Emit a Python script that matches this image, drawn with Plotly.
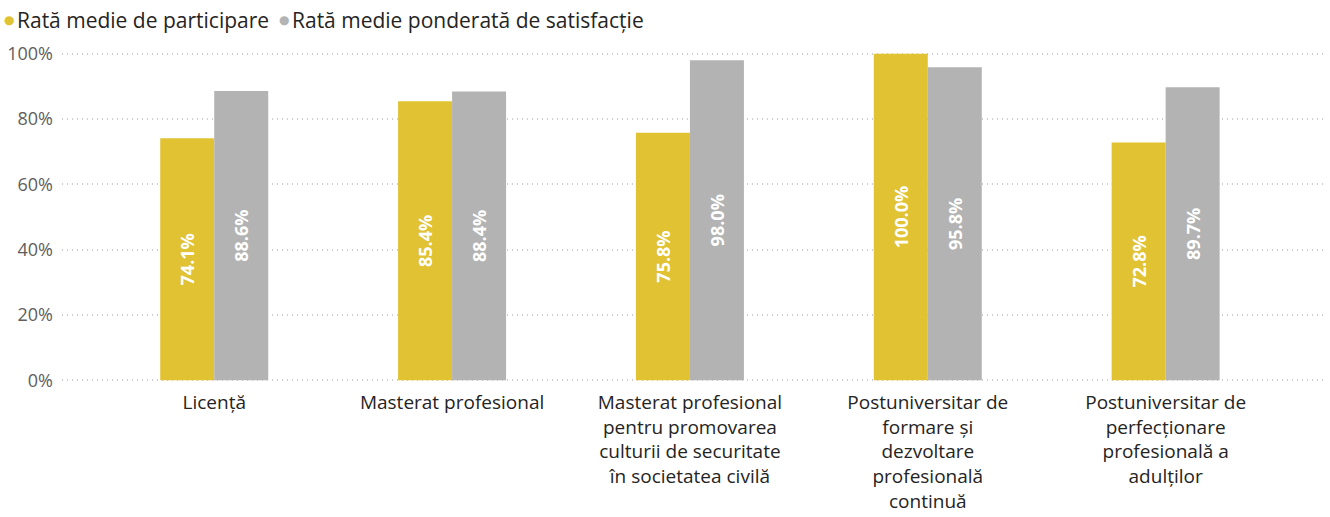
import plotly.graph_objects as go

categories = [
    "Licență",
    "Masterat profesional",
    "Masterat profesional<br>pentru promovarea<br>culturii de securitate<br>în societatea civilă",
    "Postuniversitar de<br>formare și<br>dezvoltare<br>profesională<br>continuă",
    "Postuniversitar de<br>perfecționare<br>profesională a<br>adulților",
]
participare = [74.1, 85.4, 75.8, 100.0, 72.8]
satisfactie = [88.6, 88.4, 98.0, 95.8, 89.7]
series_names = ["Rată medie de participare", "Rată medie ponderată de satisfacție"]
colors = ["#E0C232", "#B3B3B3"]
y_ticks = [0, 20, 40, 60, 80, 100]

W, H = 1330, 517
L, R, T, B = 62, 5, 52, 135
pw, ph = W - L - R, H - T - B

x = list(range(len(categories)))
fig = go.Figure()
for name, vals, col in zip(series_names, [participare, satisfactie], colors):
    fig.add_trace(go.Bar(
        x=x, y=vals, name=name, marker=dict(color=col, line=dict(width=0)),
        text=[f"{v:.1f}%" for v in vals], textposition="inside",
        insidetextanchor="middle", textangle=-90,
        textfont=dict(color="white", size=18, family="Open Sans", weight="bold"),
        constraintext="none", showlegend=False,
    ))

# legend drawn as circle marker + label
legend_dot_x = [9, 284]
for name, col, dx in zip(series_names, colors, legend_dot_x):
    fig.add_annotation(
        xref="paper", yref="paper",
        x=(dx - L) / pw, y=1 + (T - 20) / ph,
        xanchor="center", yanchor="middle", showarrow=False,
        text="●", font=dict(family="DejaVu Sans", size=12, color=col),
    )
    fig.add_annotation(
        xref="paper", yref="paper",
        x=(dx + 6 - L) / pw, y=1 + (T - 20) / ph,
        xanchor="left", yanchor="middle", showarrow=False,
        text=name, font=dict(family="Open Sans", size=21, color="#252423"),
    )

fig.update_layout(
    width=W, height=H,
    margin=dict(l=L, r=R, t=T, b=B, autoexpand=False),
    plot_bgcolor="white", paper_bgcolor="white",
    barmode="group", bargap=0.546, bargroupgap=0,
    font=dict(family="Open Sans", size=16, color="#252423"),
    showlegend=False,
)
fig.update_xaxes(
    range=[-0.64, 4.67], tickmode="array", tickvals=x, ticktext=categories,
    showgrid=False, zeroline=False, showline=False, ticks="",
    tickfont=dict(size=19, color="#252423"), tickangle=0, ticklabelstandoff=7,
)
fig.update_yaxes(
    range=[-0.5, 100.5], tickmode="array", tickvals=y_ticks,
    ticktext=[f"{t}%" for t in y_ticks],
    showgrid=True, gridcolor="#CCCCCC", griddash="1px,4px", gridwidth=1.5,
    zeroline=False, showline=False, ticks="",
    tickfont=dict(size=18, color="#605E5C"), ticklabelstandoff=8,
)
fig.write_html("out.html", config={"displayModeBar": False},
               post_script="document.body.style.margin='0';")
